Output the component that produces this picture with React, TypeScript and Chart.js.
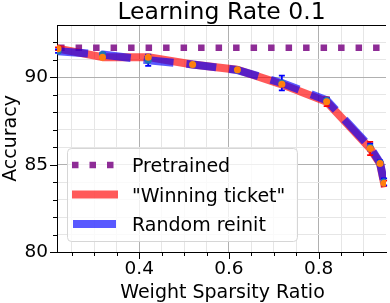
import { useEffect, useRef } from "react";
import { Chart, registerables } from "chart.js";
Chart.register(...registerables);

const chartTitle = "Learning Rate 0.1";
const xAxisTitle = "Weight Sparsity Ratio";
const yAxisTitle = "Accuracy";

const sparsity = [0.219, 0.318, 0.42, 0.519, 0.619, 0.718, 0.818, 0.915, 0.937, 0.946];
const pretrainedAcc = [91.7, 91.7, 91.7, 91.7, 91.7, 91.7, 91.7, 91.7, 91.7, 91.7];
const winningMean = [91.64, 91.16, 91.16, 90.74, 90.44, 89.6, 88.6, 85.93, 85.07, 83.94];
const winningErr = [0.08, 0.08, 0.1, 0.1, 0.08, 0.1, 0.25, 0.38, 0.1, 0.15];
const randomMean = [91.5, 91.31, 90.98, 90.74, 90.42, 89.68, 88.69, 86.0, 85.1, 84.02];
const randomErr = [0.1, 0.1, 0.32, 0.1, 0.1, 0.42, 0.15, 0.2, 0.15, 0.2];

const legendLabels = ["Pretrained", '"Winning ticket"', "Random reinit"];

const xMajorTicks = [0.4, 0.6, 0.8];
const xMinorTicks = [0.25, 0.3, 0.35, 0.45, 0.5, 0.55, 0.65, 0.7, 0.75, 0.85, 0.9];
const yMajorTicks = [80, 85, 90];
const yMinorTicks = [81, 82, 83, 84, 86, 87, 88, 89, 91, 92];

const FONT = '"DejaVu Sans", sans-serif';
const RED = "rgba(255, 0, 0, 0.65)";
const BLUE = "rgba(0, 0, 255, 0.65)";
const PURPLE = "#8e2c96";
const ORANGE = "#ff7f0e";
const TEAL = "#1f77b4";

const isIn = (arr: number[], v: number) => arr.some((t) => Math.abs(t - v) < 1e-6);

export default function App() {
  const ref = useRef<HTMLCanvasElement | null>(null);

  useEffect(() => {
    const canvas = ref.current;
    if (!canvas) return;

    const decor = {
      id: "decor",
      beforeDatasetDraw(chart: any, args: any) {
        if (args.index !== 3) return;
        const { ctx, scales } = chart;
        const xs = scales.x;
        const ys = scales.y;
        ctx.save();
        ctx.lineWidth = 1.8;
        const drawErr = (means: number[], errs: number[], color: string) => {
          ctx.strokeStyle = color;
          sparsity.forEach((x, i) => {
            const px = xs.getPixelForValue(x);
            const top = ys.getPixelForValue(means[i] + errs[i]);
            const bot = ys.getPixelForValue(means[i] - errs[i]);
            ctx.beginPath();
            ctx.moveTo(px, top);
            ctx.lineTo(px, bot);
            ctx.moveTo(px - 3, top);
            ctx.lineTo(px + 3, top);
            ctx.moveTo(px - 3, bot);
            ctx.lineTo(px + 3, bot);
            ctx.stroke();
          });
        };
        drawErr(winningMean, winningErr, "red");
        drawErr(randomMean, randomErr, "blue");
        ctx.restore();
      },
      afterDraw(chart: any) {
        const { ctx, chartArea, scales } = chart;
        const xs = scales.x;
        const ys = scales.y;
        ctx.save();
        ctx.strokeStyle = "#000";
        ctx.lineWidth = 1;
        ctx.beginPath();
        ctx.moveTo(chartArea.left, Math.round(chartArea.top) + 0.5);
        ctx.lineTo(chartArea.right, Math.round(chartArea.top) + 0.5);
        ctx.stroke();
        ctx.beginPath();
        [...xMajorTicks, ...xMinorTicks].forEach((v) => {
          const px = Math.round(xs.getPixelForValue(v)) + 0.5;
          const len = isIn(xMajorTicks, v) ? 7 : 4;
          ctx.moveTo(px, chartArea.bottom);
          ctx.lineTo(px, chartArea.bottom + len);
        });
        [...yMajorTicks, ...yMinorTicks].forEach((v) => {
          const py = Math.round(ys.getPixelForValue(v)) + 0.5;
          const len = isIn(yMajorTicks, v) ? 7 : 4;
          ctx.moveTo(chartArea.left, py);
          ctx.lineTo(chartArea.left - len, py);
        });
        ctx.stroke();

        ctx.fillStyle = "#000";
        ctx.textAlign = "center";
        ctx.textBaseline = "alphabetic";
        ctx.font = `23.5px ${FONT}`;
        const cx = (chartArea.left + chartArea.right) / 2;
        ctx.fillText(chartTitle, cx, 19);
        ctx.font = `19px ${FONT}`;
        ctx.fillText(xAxisTitle, cx + 1, 298);
        ctx.save();
        ctx.translate(16, (chartArea.top + chartArea.bottom) / 2);
        ctx.rotate(-Math.PI / 2);
        ctx.fillText(yAxisTitle, 0, 0);
        ctx.restore();

        const lx = 67.5, ly = 148.5, lw = 230, lh = 93, r = 4;
        ctx.beginPath();
        ctx.moveTo(lx + r, ly);
        ctx.lineTo(lx + lw - r, ly);
        ctx.arcTo(lx + lw, ly, lx + lw, ly + r, r);
        ctx.lineTo(lx + lw, ly + lh - r);
        ctx.arcTo(lx + lw, ly + lh, lx + lw - r, ly + lh, r);
        ctx.lineTo(lx + r, ly + lh);
        ctx.arcTo(lx, ly + lh, lx, ly + lh - r, r);
        ctx.lineTo(lx, ly + r);
        ctx.arcTo(lx, ly, lx + r, ly, r);
        ctx.closePath();
        ctx.fillStyle = "rgba(255,255,255,0.8)";
        ctx.fill();
        ctx.strokeStyle = "#d6d6d6";
        ctx.lineWidth = 1;
        ctx.stroke();

        const rows = [165, 194.5, 224];
        ctx.lineCap = "butt";
        ctx.strokeStyle = PURPLE;
        ctx.lineWidth = 6.5;
        ctx.setLineDash([6.5, 11]);
        ctx.beginPath();
        ctx.moveTo(72, rows[0]);
        ctx.lineTo(116, rows[0]);
        ctx.stroke();
        ctx.setLineDash([]);
        ctx.strokeStyle = RED;
        ctx.lineWidth = 8;
        ctx.beginPath();
        ctx.moveTo(72, rows[1]);
        ctx.lineTo(118, rows[1]);
        ctx.stroke();
        ctx.strokeStyle = BLUE;
        ctx.beginPath();
        ctx.moveTo(73, rows[2]);
        ctx.lineTo(116, rows[2]);
        ctx.stroke();

        ctx.fillStyle = "#000";
        ctx.textAlign = "left";
        ctx.textBaseline = "alphabetic";
        ctx.font = `19px ${FONT}`;
        ctx.fillText(legendLabels[0], 132, 172);
        ctx.fillText(legendLabels[1], 132, 201.5);
        ctx.fillText(legendLabels[2], 132, 231);
        ctx.restore();
      },
    };

    const toPts = (ys: number[]) => sparsity.map((x, i) => ({ x, y: ys[i] }));

    const chart = new Chart(canvas, {
      type: "line",
      data: {
        datasets: [
          {
            label: legendLabels[0],
            data: toPts(pretrainedAcc),
            borderColor: PURPLE,
            borderWidth: 6.5,
            borderDash: [6.5, 11],
            borderCapStyle: "butt",
            pointRadius: 0,
            fill: false,
            order: 6,
            clip: 0,
          },
          {
            label: legendLabels[1],
            data: toPts(winningMean),
            borderColor: RED,
            borderWidth: 8,
            borderCapStyle: "square",
            borderJoinStyle: "round",
            pointRadius: 0,
            fill: false,
            order: 5,
            clip: 0,
          },
          {
            label: legendLabels[2],
            data: toPts(randomMean),
            borderColor: BLUE,
            borderWidth: 8,
            borderDash: [30, 13],
            borderCapStyle: "butt",
            borderJoinStyle: "round",
            pointRadius: 0,
            fill: false,
            order: 4,
            clip: 0,
          },
          {
            label: "random markers",
            data: toPts(randomMean),
            showLine: false,
            pointRadius: 3.5,
            pointBackgroundColor: TEAL,
            pointBorderWidth: 0,
            order: 3,
          },
          {
            label: "winning markers",
            data: toPts(winningMean),
            showLine: false,
            pointRadius: 3.5,
            pointBackgroundColor: ORANGE,
            pointBorderWidth: 0,
            order: 2,
          },
        ],
      },
      options: {
        responsive: false,
        animation: false,
        layout: { padding: { top: 25, right: 1, left: 0, bottom: 0 } },
        plugins: {
          legend: { display: false },
          title: { display: false },
          tooltip: { enabled: false },
        },
        scales: {
          x: {
            type: "linear",
            min: 0.2166,
            max: 0.9503,
            afterFit: (s: any) => {
              s.height = 51;
            },
            afterBuildTicks: (s: any) => {
              s.ticks = [...xMajorTicks, ...xMinorTicks].sort((a, b) => a - b).map((v) => ({ value: v }));
            },
            ticks: {
              autoSkip: false,
              maxRotation: 0,
              padding: 6,
              color: "#000",
              font: { family: FONT, size: 18.5 },
              callback: (v: any) => (isIn(xMajorTicks, Number(v)) ? Number(v).toFixed(1) : ""),
            },
            grid: {
              drawTicks: false,
              color: (c: any) => (c.tick && isIn(xMajorTicks, c.tick.value) ? "#b0b0b0" : "#e6e6e6"),
              lineWidth: 1,
            },
            border: { display: true, color: "#000", width: 1 },
          },
          y: {
            type: "linear",
            min: 80,
            max: 93,
            afterFit: (s: any) => {
              s.width = 57;
            },
            afterBuildTicks: (s: any) => {
              s.ticks = [...yMajorTicks, ...yMinorTicks].sort((a, b) => a - b).map((v) => ({ value: v }));
            },
            ticks: {
              autoSkip: false,
              padding: 9,
              color: "#000",
              font: { family: FONT, size: 18.5 },
              callback: (v: any) => (isIn(yMajorTicks, Number(v)) ? String(v) : ""),
            },
            grid: {
              drawTicks: false,
              color: (c: any) => (c.tick && isIn(yMajorTicks, c.tick.value) ? "#b0b0b0" : "#e6e6e6"),
              lineWidth: 1,
            },
            border: { display: true, color: "#000", width: 1 },
          },
        },
      },
      plugins: [decor],
    } as any);

    return () => chart.destroy();
  }, []);

  return (
    <div style={{ position: "fixed", left: 0, top: 0, width: 390, height: 303, background: "#fff" }}>
      <canvas ref={ref} width={390} height={303} style={{ display: "block", width: 390, height: 303 }} />
    </div>
  );
}
